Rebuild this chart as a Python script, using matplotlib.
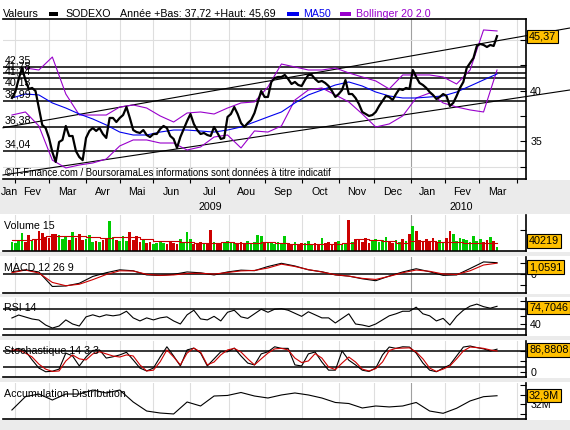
import numpy as np
import matplotlib
matplotlib.use("Agg")
import matplotlib.pyplot as plt
import matplotlib.transforms as mtransforms
from matplotlib.patches import Rectangle

plt.rcParams['font.family'] = ['Liberation Sans', 'DejaVu Sans']
plt.rcParams['font.size'] = 7.7

#%% calendar (x axis counted in trading sessions from the first plotted day)
months = ['Jan', 'Fev', 'Mar', 'Avr', 'Mai', 'Jun', 'Jul', 'Aou', 'Sep', 'Oct', 'Nov', 'Dec',
          'Jan', 'Fev', 'Mar']
month_sessions = [20, 22, 20, 20, 22, 23, 21, 22, 22, 21, 22, 20, 20, 23]  # Feb 2009 .. Mar 2010
first_boundary = 2
years = ['2009', '2010']
year_under = [6, 13]
new_year = 11

#%% SODEXO close, one value every 2 sessions
close = [39.27, 39.86, 41.14, 42.23, 41.05, 40.16, 40.26, 39.96, 38.28, 36.61,
         36.31, 35.33, 33.94, 32.96, 34.93, 35.13, 36.51, 35.52, 35.52, 34.03,
         33.44, 33.14, 35.33, 36.02, 36.31, 36.02, 36.31, 35.72, 35.33, 37.30,
         37.30, 36.90, 37.30, 37.59, 38.38, 37.30, 36.11, 35.91, 35.82, 36.11,
         35.62, 35.42, 35.72, 35.72, 36.21, 36.51, 36.31, 35.52, 35.23, 34.34,
         35.42, 36.21, 37.00, 37.69, 36.71, 36.11, 35.72, 35.82, 35.62, 35.52,
         36.41, 35.82, 35.23, 35.33, 37.40, 37.69, 38.38, 37.69, 36.80, 36.41,
         36.80, 37.10, 37.79, 38.88, 39.96, 39.37, 39.37, 40.85, 41.24, 41.34,
         41.34, 41.54, 41.14, 40.65, 40.85, 40.55, 40.45, 41.05, 41.54, 41.54,
         41.14, 40.85, 40.95, 40.75, 40.45, 39.96, 39.37, 39.66, 40.06, 41.05,
         39.66, 39.66, 39.27, 38.68, 37.89, 37.69, 37.50, 37.59, 37.89, 38.48,
         38.97, 39.47, 39.37, 39.07, 39.66, 40.16, 40.06, 40.26, 40.16, 42.03,
         41.34, 40.75, 40.55, 40.26, 39.86, 39.57, 39.17, 39.37, 39.66, 39.47,
         38.48, 38.78, 39.47, 40.26, 40.85, 42.23, 42.72, 43.21, 44.40, 44.60,
         44.50, 44.30, 44.50, 44.40, 45.37]

# MA50 and Bollinger 20 2.0, one value every 8 sessions
ma50 = [39.27, 39.66, 39.57, 38.78, 38.28, 37.69, 37.20, 36.61, 35.91, 35.62,
        35.62, 35.91, 36.11, 36.11, 36.01, 35.91, 36.11, 36.41, 36.90, 37.40,
        37.89, 38.78, 39.57, 40.06, 40.55, 40.85, 40.45, 39.86, 39.47, 39.27,
        39.27, 39.37, 39.47, 39.86, 40.45, 41.05, 41.64]
bb_up = [np.nan, 42.23, 42.03, 43.31, 39.66, 37.59, 37.59, 37.59, 38.38, 38.58,
         38.28, 37.50, 36.90, 37.79, 37.89, 37.69, 38.28, 38.78, 38.88, 40.36,
         42.62, 42.33, 42.03, 42.03, 42.23, 41.74, 41.34, 40.95, 40.16, 41.54,
         41.54, 41.54, 41.34, 40.65, 42.03, 45.98, 45.88]
bb_low = [37.59, 37.89, 36.51, 33.14, 32.37, 32.66, 32.86, 33.25, 34.54, 35.13,
          35.13, 34.83, 34.83, 34.14, 34.44, 35.42, 35.62, 34.34, 36.02, 35.91,
          36.51, 39.07, 40.06, 40.26, 39.57, 38.88, 37.69, 36.41, 36.71, 37.50,
          39.27, 39.76, 38.78, 38.38, 38.09, 37.89, 42.03]

# support levels and trend channel (session, price)
levels = [42.35, 41.78, 41.24, 40.13, 38.99, 36.38, 34.04]
level_labels = ['42,35', '41,78', '41,24', '40,13', '38,99', '36,38', '34,04']
channel_up = [(-7.1, 36.28), (305.2, 45.41)]
channel_low = [(-7.1, 31.63), (305.2, 39.41)]

# volume (thousands), every 2 sessions, and its 15 day average every 8 sessions
volume = [95, 80, 110, 185, 90, 160, 100, 120, 200, 180,
          140, 130, 170, 170, 165, 120, 150, 110, 195, 130,
          175, 110, 120, 165, 95, 100, 90, 110, 120, 300,
          140, 110, 100, 150, 105, 195, 110, 150, 95, 110,
          80, 90, 75, 85, 95, 80, 70, 90, 85, 75,
          120, 80, 190, 120, 70, 80, 95, 70, 85, 210,
          95, 80, 70, 90, 100, 80, 85, 70, 95, 75,
          100, 80, 90, 160, 150, 90, 80, 85, 75, 95,
          80, 150, 80, 75, 90, 70, 85, 80, 100, 75,
          85, 70, 130, 80, 95, 70, 90, 100, 75, 85,
          310, 90, 120, 110, 95, 130, 80, 100, 125, 90,
          110, 140, 95, 80, 110, 90, 120, 100, 170, 250,
          200, 110, 90, 120, 100, 130, 90, 110, 95, 130,
          200, 170, 100, 130, 120, 110, 90, 150, 100, 120,
          90, 110, 140, 100, 40.219]
vol_ma = [115, 115, 125, 155, 155, 155, 145, 135, 145, 140,
          125, 105, 100, 90, 85, 85, 95, 85, 85, 90,
          85, 75, 75, 75, 75, 85, 125, 110, 100, 85,
          105, 105, 95, 95, 85, 85, 85]

# MACD 12 26 9, every 8 sessions
macd = [0.21, 0.39, 0.19, -1.17, -1.12, -0.87, -0.23, 0.12, 0.39, 0.30,
        -0.09, -0.14, -0.03, 0.19, 0.11, -0.09, 0.19, 0.36, 0.31, 0.70,
        1.00, 0.75, 0.39, 0.21, -0.09, -0.20, -0.45, -0.63, -0.19, 0.19,
        0.49, 0.21, -0.13, -0.09, 0.51, 1.13, 1.0591]
macd_signal = [0.12, 0.37, 0.09, -0.79, -1.10, -0.96, -0.53, -0.05, 0.30, 0.28,
               -0.03, -0.13, -0.09, 0.05, 0.07, -0.01, 0.14, 0.29, 0.33, 0.56,
               0.92, 0.70, 0.41, 0.19, -0.07, -0.20, -0.41, -0.51, -0.22, 0.12,
               0.37, 0.25, 0.00, -0.05, 0.30, 0.84, 1.01]

# RSI 14 and stochastic 14 3 3, every 4 sessions
rsi = [51.8, 57.6, 53.7, 49.8, 47.8, 38.0, 32.0, 36.0, 48.0, 40.0,
       36.0, 54.0, 58.0, 54.0, 58.0, 56.0, 58.0, 65.0, 52.0, 46.0,
       52.0, 48.0, 52.0, 54.0, 46.0, 40.0, 58.0, 67.0, 50.0, 48.0,
       55.0, 46.0, 63.0, 67.0, 54.0, 51.0, 60.0, 69.0, 63.0, 69.0,
       70.0, 67.0, 61.0, 55.0, 64.0, 58.0, 52.0, 52.0, 42.0, 51.0,
       60.0, 40.0, 38.0, 35.0, 40.0, 48.0, 56.0, 60.0, 65.0, 65.0,
       73.0, 60.0, 56.0, 46.0, 51.0, 38.0, 55.0, 67.0, 75.0, 79.0,
       74.0, 71.0, 74.7046]
stoch_k = [77, 90, 80, 46, 15, 1, 3, 11, 72, 61,
           23, 57, 82, 84, 53, 58, 65, 75, 46, 15,
           4, 15, 57, 96, 61, 23, 84, 91, 72, 23,
           50, 77, 77, 91, 61, 34, 27, 69, 77, 96,
           90, 90, 27, 23, 69, 76, 38, 7, 7, 80,
           45, 27, 7, 2, 15, 65, 95, 90, 96, 95,
           72, 34, 7, 1, 15, 27, 61, 95, 99, 93,
           88, 80, 86.8808]
stoch_d = [84, 84, 72, 57, 30, 11, 2, 4, 42, 65,
           50, 46, 69, 77, 69, 61, 57, 65, 61, 27,
           4, 7, 39, 84, 57, 27, 72, 91, 76, 27,
           38, 65, 84, 90, 76, 50, 27, 50, 72, 88,
           90, 84, 53, 36, 42, 70, 53, 19, 9, 34,
           57, 38, 11, 4, 13, 38, 82, 90, 91, 92,
           76, 50, 15, 2, 11, 23, 50, 80, 95, 93,
           90, 84, 80]

# accumulation / distribution (millions), every 8 sessions
acc_dist = [31.40, 32.80, 33.08, 32.45, 33.08, 33.08, 33.50, 33.19, 33.50, 32.24,
            31.29, 31.08, 30.98, 32.24, 31.82, 32.87, 32.93, 33.24, 32.87, 32.66,
            32.98, 33.19, 32.98, 32.66, 32.19, 32.08, 31.61, 31.82, 31.72, 31.82,
            32.19, 31.29, 31.05, 31.58, 32.35, 32.80, 32.90]

#%% x positions
s2 = np.arange(len(close)) * 2
s4 = np.arange(len(rsi)) * 4
s8 = np.arange(len(ma50)) * 8
xmin, xmax, xext = -5.3, 305.2, 331
bounds = first_boundary + np.concatenate([[0], np.cumsum(month_sessions)])
edges = np.concatenate([[xmin], bounds])
centers = (edges[:-1] + edges[1:]) / 2

RED = '#cc0000'
GREEN = '#00cc00'
BLUE = '#0000ee'
PURPLE = '#9900cc'
GOLD = '#ffc000'

W, H = 570, 430
def frac_rect(x0, y0, x1, y1):
    return [x0 / W, 1 - y1 / H, (x1 - x0) / W, (y1 - y0) / H]

fig = plt.figure(figsize=(W / 100, H / 100), dpi=100, facecolor='#ebebeb')
for y0, y1 in [(0, 180), (214, 252), (256, 294), (297, 336), (340, 378), (382, 420)]:
    fig.add_artist(Rectangle((0, 1 - y1 / H), 1, (y1 - y0) / H, transform=fig.transFigure,
                             facecolor='white', edgecolor='none', zorder=-5))

def make_panel(y0, y1, ylim):
    ax = fig.add_axes(frac_rect(3, y0, 526, y1))
    ax.set_facecolor('none')
    ax.set_xlim(xmin, xmax)
    ax.set_ylim(*ylim)
    ax.spines['left'].set_visible(False)
    ax.spines['top'].set_visible(False)
    ax.spines['bottom'].set_linewidth(1.2)
    ax.spines['right'].set_linewidth(1.2)
    ax.set_xticks([])
    ax.yaxis.tick_right()
    ax.tick_params(axis='y', which='both', direction='in', length=4, width=0.8, pad=3, labelsize=7.7)
    for k, b in enumerate(bounds):
        ax.axvline(b, color='#a0a0a0' if k == new_year else '#dedede', lw=0.8, zorder=0)
    return ax

def value_box(ax, val, txt, lo=0.0, hi=1.0):
    y0, y1 = ax.get_ylim()
    f = min(max((val - y0) / (y1 - y0), lo), hi)
    ax.annotate(txt, xy=(1, f), xycoords='axes fraction', xytext=(2.2, 0),
                textcoords='offset points', ha='left', va='center', fontsize=7.8,
                bbox=dict(boxstyle='square,pad=0.15', fc=GOLD, ec='black', lw=0.8),
                annotation_clip=False, zorder=10)

def panel_title(y, txt):
    fig.text(4 / W, 1 - y / H, txt, va='center', ha='left', fontsize=7.7)

#%% main price panel
ax = make_panel(19, 179, (31.28, 47.06))
ax.spines['top'].set_visible(True)
ax.spines['top'].set_linewidth(1.2)
ax.set_yticks([35, 40, 45])
ax.set_yticks([32.5, 37.5, 42.5], minor=True)
ax.set_xticks(bounds)
ax.tick_params(axis='x', direction='out', length=3, width=0.8, labelbottom=False)
for g in [32.5, 45]:
    ax.axhline(g, color='#dedede', lw=0.8, zorder=0)
for v, lbl in zip(levels, level_labels):
    ax.axhline(v, color='black', lw=1.1, zorder=2)
    ax.annotate(lbl, xy=(xmin, v), xytext=(1.5, 1), textcoords='offset points',
                ha='left', va='bottom', fontsize=7.7, zorder=6)
for (a0, p0), (a1, p1) in [channel_up, channel_low]:
    xs = np.array([xmin, xext])
    ax.plot(xs, p0 + (p1 - p0) / (a1 - a0) * (xs - a0), color='black', lw=0.8,
            clip_on=False, zorder=2)
ax.plot(s8, bb_up, color=PURPLE, lw=0.8, zorder=3)
ax.plot(s8, bb_low, color=PURPLE, lw=0.8, zorder=3)
ax.plot(s8, ma50, color=BLUE, lw=0.8, zorder=3)
ax.plot(s2, close, color='black', lw=1.6, zorder=4)
value_box(ax, close[-1], '45,37')
ax.text(0.004, 6 / 160, '©IT-Finance.com / BoursoramaLes informations sont données à titre indicatif',
        transform=ax.transAxes, va='center', ha='left', fontsize=6.9, zorder=6)

lab = mtransforms.blended_transform_factory(ax.transData, ax.transAxes)
for c, m in zip(centers, months):
    ax.text(c, -13 / 160, m, transform=lab, ha='center', va='center', fontsize=7.7)
for yr, k in zip(years, year_under):
    ax.text(centers[k], -28 / 160, yr, transform=lab, ha='center', va='center', fontsize=7.7)

# header line
fig.text(3 / W, 1 - 14 / H, 'Valeurs', va='center', fontsize=7.7)
fig.add_artist(Rectangle((49 / W, 1 - 15.5 / H), 9 / W, 3 / H, transform=fig.transFigure, fc='black', ec='none'))
fig.text(65 / W, 1 - 14 / H, 'SODEXO', va='center', fontsize=7.7)
fig.text(120 / W, 1 - 14 / H, 'Année +Bas: 37,72 +Haut: 45,69', va='center', fontsize=7.7)
fig.add_artist(Rectangle((287 / W, 1 - 15.5 / H), 12 / W, 3 / H, transform=fig.transFigure, fc=BLUE, ec='none'))
fig.text(303 / W, 1 - 14 / H, 'MA50', va='center', fontsize=7.7, color=BLUE)
fig.add_artist(Rectangle((340 / W, 1 - 15.5 / H), 11 / W, 3 / H, transform=fig.transFigure, fc=PURPLE, ec='none'))
fig.text(356 / W, 1 - 14 / H, 'Bollinger 20 2.0', va='center', fontsize=7.7, color=PURPLE)

#%% volume
axv = make_panel(215, 251, (0, 360))
up = np.diff(np.concatenate([[close[0]], close])) >= 0
axv.bar(s2, volume, width=1.6, color=np.where(up, GREEN, RED), zorder=2)
axv.plot(s8, vol_ma, color=RED, lw=0.8, drawstyle='steps-mid', zorder=3)
axv.set_yticks([215])
axv.set_yticklabels([''])
value_box(axv, volume[-1], '40219', 0.28, 0.72)
panel_title(226, 'Volume 15')

#%% MACD
axm = make_panel(257, 293, (-1.78, 1.59))
axm.axhline(0, color='black', lw=1.1, zorder=1)
axm.plot(s8, macd, color='black', lw=0.8, zorder=3)
axm.plot(s8, macd_signal, color=RED, lw=0.8, zorder=3)
axm.set_yticks([-1, 0, 1])
axm.set_yticklabels(['', '0', ''])
value_box(axm, macd[-1], '1,0591', 0.28, 0.72)
panel_title(268, 'MACD 12 26 9')

#%% RSI
axr = make_panel(298, 335, (18.4, 91))
for g in [70, 30]:
    axr.axhline(g, color='black', lw=1.1, zorder=1)
axr.plot(s4, rsi, color='black', lw=0.8, zorder=3)
axr.set_yticks([40, 55, 70, 85])
axr.set_yticklabels(['40', '', '', ''])
value_box(axr, rsi[-1], '74,7046', 0.25, 0.75)
panel_title(308, 'RSI 14')

#%% stochastic
axs = make_panel(341, 377, (-19, 118))
for g in [80, 20]:
    axs.axhline(g, color='black', lw=1.1, zorder=1)
axs.plot(s4, stoch_k, color='black', lw=0.8, zorder=3)
axs.plot(s4, stoch_d, color=RED, lw=0.8, zorder=3)
axs.set_yticks([0, 40, 80])
axs.set_yticklabels(['0', '', ''])
value_box(axs, stoch_k[-1], '86,8808', 0.25, 0.75)
panel_title(351, 'Stochastique 14 3 3')

#%% accumulation distribution
axa = make_panel(383, 419, (30.45, 34.24))
axa.plot(s8, acc_dist, color='black', lw=0.8, zorder=3)
axa.set_yticks([31, 32, 33, 34])
axa.set_yticklabels(['', '32M', '', ''])
value_box(axa, acc_dist[-1], '32,9M', 0.25, 0.75)
panel_title(394, 'Accumulation Distribution')

fig.savefig('out.png', dpi=100, facecolor=fig.get_facecolor())
